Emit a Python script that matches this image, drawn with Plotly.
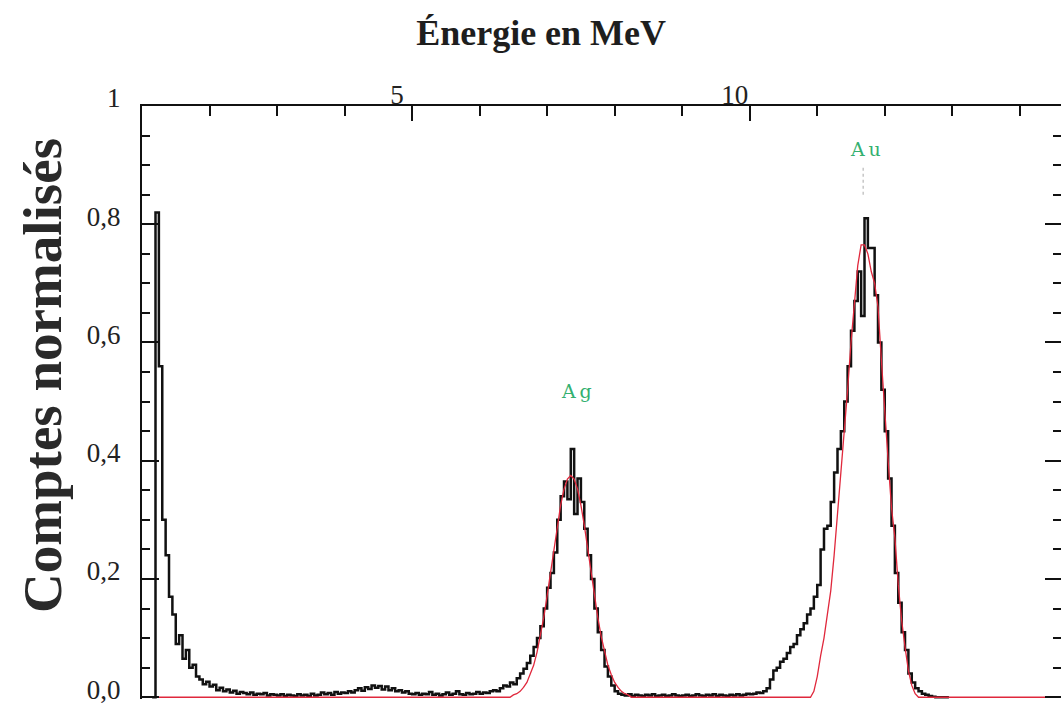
import plotly.graph_objects as go

# ---------------- data ----------------
E_START = 1.15
E_STEP = 0.05

# measured spectrum, one value per 0.05 MeV bin starting at 1.15 MeV
counts_measured = [
    0.0, 0.82, 0.56, 0.30, 0.24, 0.17, 0.14, 0.09, 0.105, 0.065, 0.08, 0.05, 0.055, 0.035, 0.03, 0.022, 0.026,
    # 2.00 - 2.95
    0.018, 0.021, 0.012, 0.016, 0.010, 0.013, 0.008, 0.011, 0.006, 0.009, 0.007, 0.005, 0.008, 0.004, 0.006, 0.005, 0.007, 0.003, 0.005, 0.004,
    # 3.00 - 3.95
    0.003, 0.005, 0.002, 0.004, 0.003, 0.002, 0.005, 0.003, 0.004, 0.002, 0.006, 0.003, 0.004, 0.008, 0.005, 0.007, 0.004, 0.009, 0.006, 0.008,
    # 4.00 - 4.95
    0.007, 0.010, 0.008, 0.012, 0.015, 0.011, 0.017, 0.014, 0.020, 0.016, 0.019, 0.013, 0.018, 0.012, 0.015, 0.010, 0.012, 0.008, 0.010, 0.006,
    # 5.00 - 5.95
    0.005, 0.007, 0.004, 0.006, 0.005, 0.009, 0.004, 0.006, 0.003, 0.005, 0.008, 0.004, 0.006, 0.010, 0.005, 0.004, 0.007, 0.005, 0.006, 0.009,
    # 6.00 - 6.95
    0.006, 0.008, 0.007, 0.010, 0.012, 0.010, 0.015, 0.020, 0.018, 0.025, 0.022, 0.032, 0.040, 0.048, 0.058, 0.070, 0.085, 0.100, 0.120, 0.150,
    # 7.00 - 7.95
    0.185, 0.210, 0.245, 0.300, 0.340, 0.365, 0.335, 0.420, 0.310, 0.370, 0.330, 0.285, 0.240, 0.200, 0.150, 0.110, 0.080, 0.052, 0.035, 0.020,
    # 8.00 - 8.95
    0.010, 0.006, 0.004, 0.003, 0.005, 0.002, 0.004, 0.003, 0.002, 0.004, 0.003, 0.005, 0.002, 0.003, 0.004, 0.002, 0.003, 0.005, 0.003, 0.002,
    # 9.00 - 9.95
    0.003, 0.004, 0.002, 0.003, 0.005, 0.003, 0.002, 0.004, 0.003, 0.005, 0.002, 0.004, 0.003, 0.002, 0.004, 0.003, 0.005, 0.003, 0.004, 0.006,
    # 10.00 - 10.95
    0.005, 0.006, 0.008, 0.007, 0.010, 0.015, 0.030, 0.045, 0.050, 0.060, 0.065, 0.075, 0.085, 0.090, 0.105, 0.115, 0.125, 0.140, 0.150, 0.170,
    # 11.00 - 11.95
    0.190, 0.250, 0.285, 0.290, 0.330, 0.380, 0.420, 0.450, 0.500, 0.560, 0.620, 0.670, 0.720, 0.645, 0.810, 0.760, 0.760, 0.680, 0.600, 0.520,
    # 12.00 - 12.95
    0.450, 0.370, 0.290, 0.210, 0.160, 0.110, 0.080, 0.040, 0.025, 0.015, 0.010, 0.006, 0.004, 0.002, 0.001, 0.0, 0.0, 0.0, 0.0, 0.0,
]
energy_measured = [round(E_START + i * E_STEP, 3) for i in range(len(counts_measured))]

# fitted curve (red)
fit_energy = [
    0.99,
    6.45, 6.50, 6.55, 6.60, 6.65, 6.70, 6.75, 6.80, 6.85, 6.90, 6.95, 7.00, 7.05, 7.10, 7.15, 7.20, 7.25, 7.30,
    7.35, 7.40, 7.45, 7.50, 7.55, 7.60, 7.65, 7.70, 7.75, 7.80, 7.85, 7.90, 7.95, 8.00, 8.05, 8.10, 8.15, 8.20, 8.25,
    10.85, 10.90, 10.95, 11.00, 11.05, 11.10, 11.15, 11.20, 11.25, 11.30, 11.35, 11.40, 11.45, 11.50, 11.55, 11.60,
    11.65, 11.70, 11.75, 11.80, 11.85, 11.90, 11.95, 12.00, 12.05, 12.10, 12.15, 12.20, 12.25, 12.30, 12.35, 12.40,
    12.45, 12.50, 12.55,
    14.70,
]
fit_counts = [
    0.0,
    0.0, 0.004, 0.006, 0.010, 0.0165, 0.025, 0.038, 0.054, 0.076, 0.103, 0.135, 0.172, 0.211, 0.252, 0.291, 0.325, 0.352, 0.369,
    0.375, 0.369, 0.352, 0.325, 0.291, 0.252, 0.211, 0.172, 0.135, 0.103, 0.076, 0.054, 0.038, 0.025, 0.0165, 0.010, 0.006, 0.004, 0.0,
    0.0, 0.0, 0.010, 0.035, 0.070, 0.100, 0.140, 0.180, 0.240, 0.310, 0.380, 0.440, 0.520, 0.600, 0.670, 0.730,
    0.765, 0.765, 0.750, 0.720, 0.700, 0.660, 0.570, 0.480, 0.400, 0.320, 0.270, 0.190, 0.130, 0.085, 0.045, 0.020,
    0.006, 0.0, 0.0,
    0.0,
]

peak_names = ["A\u2009g", "A\u2009u"]
peak_label_energy = [7.44, 11.71]
peak_label_height = [0.518, 0.927]

y_tick_values = [0.0, 0.2, 0.4, 0.6, 0.8, 1.0]
y_tick_text = ["0,0", "0,2", "0,4", "0,6", "0,8", "1"]
x_tick_values = [5, 10]
x_tick_text = ["5", "10"]

# ---------------- figure ----------------
SERIF = "Liberation Serif, Times New Roman, serif"

fig = go.Figure()

fig.add_trace(go.Scatter(
    x=energy_measured, y=counts_measured, mode="lines",
    line=dict(color="#111111", width=2.5, shape="hv"),
    hoverinfo="skip", showlegend=False,
))
fig.add_trace(go.Scatter(
    x=fit_energy, y=fit_counts, mode="lines",
    line=dict(color="#e0283c", width=1.3),
    hoverinfo="skip", showlegend=False,
))
# helper trace so the right-hand tick axis is drawn
fig.add_trace(go.Scatter(
    x=[fit_energy[0]], y=[fit_counts[0]], yaxis="y2", mode="lines",
    line=dict(width=0), hoverinfo="skip", showlegend=False,
))

for name, e, h in zip(peak_names, peak_label_energy, peak_label_height):
    fig.add_annotation(
        x=e, y=h, xref="x", yref="y", text=name, showarrow=False,
        font=dict(family="DejaVu Serif, serif", size=19, color="#34b070"),
    )

# dotted marker under the Au label
fig.add_shape(
    type="line", xref="x", yref="y",
    x0=peak_label_energy[1] - 0.03, x1=peak_label_energy[1] - 0.03,
    y0=0.85, y1=0.90,
    line=dict(color="#b8b8b8", width=1.2, dash="dot"),
)

# y-axis title
fig.add_annotation(
    xref="paper", yref="paper", x=-0.109, y=0.546,
    xanchor="center", yanchor="middle",
    text="<b>Comptes normalisés</b>", textangle=-90, showarrow=False,
    font=dict(family=SERIF, size=55, color="#2a2a2a"),
)

axis_tick_font = dict(family=SERIF, size=27, color="#222")

fig.update_layout(
    width=1061, height=712,
    margin=dict(l=142, r=0, t=106, b=13),
    paper_bgcolor="white", plot_bgcolor="white",
    title=dict(
        text="<b>Énergie en MeV</b>",
        font=dict(family=SERIF, size=36, color="#1e1e1e"),
        x=0.51, xref="container", xanchor="center",
        y=1 - 32 / 712, yref="container", yanchor="middle",
    ),
    xaxis=dict(
        side="top", range=[1.0, 14.61],
        tickvals=x_tick_values, ticktext=x_tick_text,
        ticks="inside", ticklen=15, tickwidth=1.5, tickcolor="#111",
        minor=dict(dtick=1, tick0=0, ticks="inside", ticklen=10, tickwidth=1.5, tickcolor="#111"),
        showline=True, linewidth=2, linecolor="#111",
        showgrid=False, zeroline=False,
        tickfont=axis_tick_font, ticklabelshift=-15, ticklabelstandoff=-11,
        ticklabeloverflow="allow",
    ),
    yaxis=dict(
        range=[-0.003, 1.0],
        tickvals=y_tick_values, ticktext=y_tick_text,
        ticks="inside", ticklen=17, tickwidth=1.5, tickcolor="#111",
        minor=dict(dtick=0.05, tick0=0, ticks="inside", ticklen=8, tickwidth=1.5, tickcolor="#111"),
        showline=True, linewidth=2, linecolor="#111",
        showgrid=False, zeroline=False,
        tickfont=axis_tick_font, ticklabelstandoff=14, ticklabelshift=-8,
        ticklabeloverflow="allow",
    ),
    yaxis2=dict(
        overlaying="y", side="right", range=[-0.003, 1.0],
        tickvals=y_tick_values, showticklabels=False,
        ticks="inside", ticklen=16, tickwidth=1.5, tickcolor="#111",
        minor=dict(dtick=0.05, tick0=0, ticks="inside", ticklen=8, tickwidth=1.5, tickcolor="#111"),
        showline=False, showgrid=False, zeroline=False,
    ),
)

fig.write_html("out.html")
